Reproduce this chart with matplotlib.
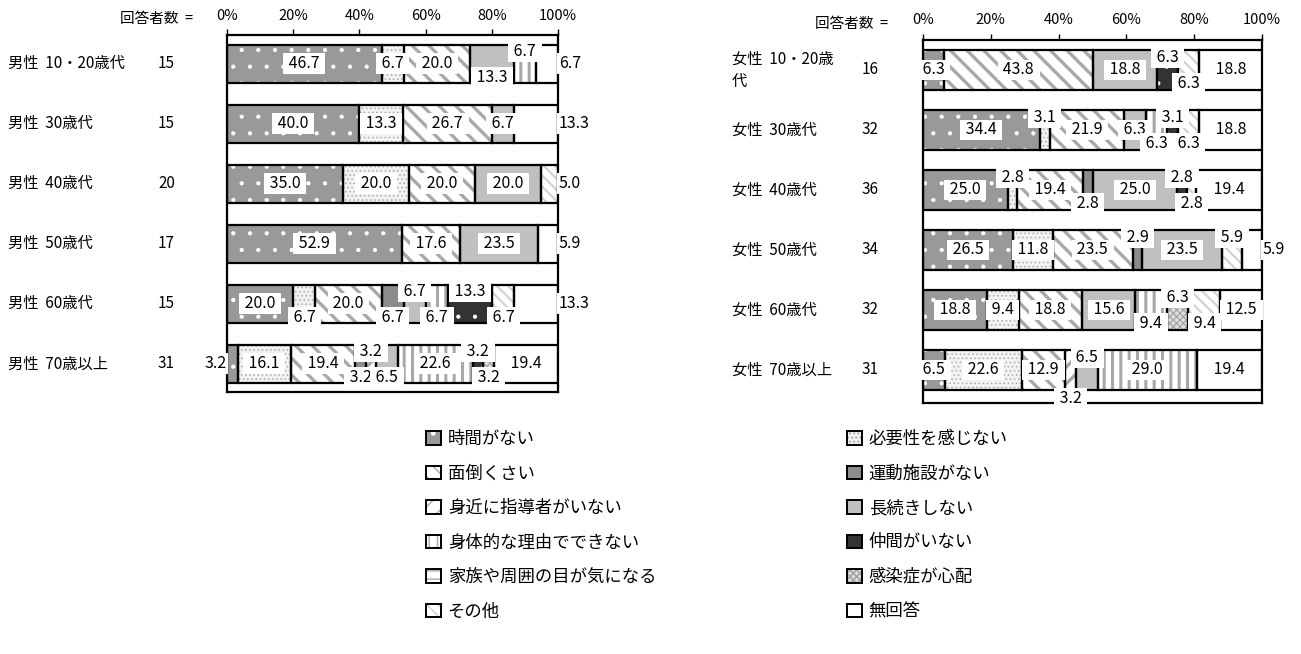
import matplotlib
matplotlib.use("Agg")
import matplotlib.pyplot as plt
from matplotlib.patches import Patch
from matplotlib.legend_handler import HandlerTuple
from matplotlib.transforms import blended_transform_factory

plt.rcParams['font.family'] = ['Noto Sans CJK JP', 'DejaVu Sans']

# ------------------------------------------------------------------
# data
categories = ['時間がない', '必要性を感じない', '面倒くさい', '運動施設がない',
              '身近に指導者がいない', '長続きしない', '身体的な理由でできない',
              '仲間がいない', '家族や周囲の目が気になる', '感染症が心配',
              'その他', '無回答']

male_groups = ['男性  10・20歳代', '男性  30歳代', '男性  40歳代',
               '男性  50歳代', '男性  60歳代', '男性  70歳以上']
male_n = [15, 15, 20, 17, 15, 31]
male_values = [
    [46.7, 6.7, 20.0, 0, 0, 13.3, 6.7, 0, 0, 0, 0, 6.7],
    [40.0, 13.3, 26.7, 0, 0, 6.7, 0, 0, 0, 0, 0, 13.3],
    [35.0, 20.0, 20.0, 0, 0, 20.0, 0, 0, 0, 0, 5.0, 0],
    [52.9, 0, 17.6, 0, 0, 23.5, 0, 0, 0, 0, 0, 5.9],
    [20.0, 6.7, 20.0, 6.7, 0, 6.7, 6.7, 13.3, 0, 0, 6.7, 13.3],
    [3.2, 16.1, 19.4, 3.2, 3.2, 6.5, 22.6, 3.2, 0, 3.2, 0, 19.4],
]

female_groups = ['女性  10・20歳\n代', '女性  30歳代', '女性  40歳代',
                 '女性  50歳代', '女性  60歳代', '女性  70歳以上']
female_n = [16, 32, 36, 34, 32, 31]
female_values = [
    [6.3, 0, 43.8, 0, 0, 18.8, 0, 6.3, 0, 0, 6.3, 18.8],
    [34.4, 3.1, 21.9, 0, 0, 6.3, 6.3, 3.1, 0, 0, 6.3, 18.8],
    [25.0, 2.8, 19.4, 2.8, 0, 25.0, 0, 2.8, 0, 0, 2.8, 19.4],
    [26.5, 11.8, 23.5, 2.9, 0, 23.5, 0, 0, 0, 0, 5.9, 5.9],
    [18.8, 9.4, 18.8, 0, 0, 15.6, 9.4, 0, 0, 6.3, 9.4, 12.5],
    [6.5, 22.6, 12.9, 0, 3.2, 6.5, 29.0, 0, 0, 0, 0, 19.4],
]

ticks = [0, 20, 40, 60, 80, 100]
tick_labels = ['0%', '20%', '40%', '60%', '80%', '100%']

# ------------------------------------------------------------------
# styles: (face, hatch, hatch colour, hatch linewidth)
styles = [
    ('#999999', '.', 'white', 0.6),
    ('#f2f2f2', '....', '#aaaaaa', 0.6),
    ('white', '\\\\', '#a8a8a8', 2.4),
    ('#8c8c8c', '', '#8c8c8c', 1.0),
    ('white', '//', '#a8a8a8', 2.4),
    ('#c0c0c0', '', '#c0c0c0', 1.0),
    ('white', '||', '#a8a8a8', 2.2),
    ('#333333', '.', 'white', 0.6),
    ('white', '--', '#a8a8a8', 2.2),
    ('#dddddd', 'xxxxx', '#a0a0a0', 0.8),
    ('white', '\\\\\\', '#d0d0d0', 1.5),
    ('white', '', 'white', 1.0),
]

# label placement for each non-zero segment: c centre, u up, d down, dd far down, r right, l left
male_label_pos = [
    ['c', 'c', 'c', 'd', 'u', 'r'],
    ['c', 'c', 'c', 'c', 'r'],
    ['c', 'c', 'c', 'c', 'r'],
    ['c', 'c', 'c', 'r'],
    ['c', 'd', 'c', 'd', 'u', 'd', 'u', 'd', 'r'],
    ['l', 'c', 'c', 'd', 'u', 'd', 'c', 'u', 'd', 'c'],
]
female_label_pos = [
    ['c', 'c', 'c', 'u', 'd', 'c'],
    ['c', 'u', 'c', 'c', 'd', 'u', 'd', 'c'],
    ['c', 'u', 'c', 'd', 'c', 'u', 'd', 'c'],
    ['c', 'c', 'c', 'u', 'c', 'u', 'r'],
    ['c', 'c', 'c', 'c', 'd', 'u', 'd', 'c'],
    ['c', 'c', 'c', 'dd', 'u', 'c', 'c'],
]


def hatched_patch(face, hatch, hc, hlw, **kw):
	with plt.rc_context({'hatch.linewidth': hlw}):
		p = Patch(facecolor=face, edgecolor=hc, hatch=hatch, linewidth=0, **kw)
	if hasattr(p, 'set_hatch_linewidth'):
		p.set_hatch_linewidth(hlw)
	return p


def draw_panel(ax, values, label_pos, bar_h):
	for i, row in enumerate(values):
		left = 0
		pos = iter(label_pos[i])
		for k, v in enumerate(row):
			if v == 0:
				continue
			face, hatch, hc, hlw = styles[k]
			with plt.rc_context({'hatch.linewidth': hlw}):
				bars = ax.barh(i, v, left=left, height=bar_h, color=face, edgecolor=hc,
				               hatch=hatch, linewidth=0, zorder=2)
			for b in bars:
				if hasattr(b, 'set_hatch_linewidth'):
					b.set_hatch_linewidth(hlw)
			ax.barh(i, v, left=left, height=bar_h, fill=False,
			        edgecolor='black', linewidth=1.6, zorder=3)
			p = next(pos)
			x, y, ha = left + v / 2, i, 'center'
			txt = f' {v:.1f} '
			if p == 'u':
				y -= 0.2
			elif p == 'd':
				y += 0.22
			elif p == 'dd':
				y += 0.47
			elif p == 'r':
				x, ha, txt = 100.2, 'left', f'{v:.1f}'
			elif p == 'l':
				x, ha, txt = -0.2, 'right', f'{v:.1f}'
			ax.text(x, y, txt, ha=ha, va='center', fontsize=11.5,
			        zorder=5, clip_on=False,
			        bbox=dict(boxstyle='square,pad=0.12', fc='white', ec='none'))
			left += v

	ax.set_xlim(0, 100)
	ax.set_xticks(ticks)
	ax.set_xticklabels(tick_labels, fontsize=10.5)
	ax.xaxis.tick_top()
	ax.tick_params(axis='x', length=4, width=1, pad=5)
	ax.set_yticks([])
	for s in ax.spines.values():
		s.set_linewidth(1.6)


fig = plt.figure(figsize=(13.01, 6.54), dpi=100)

ax1 = fig.add_axes([227 / 1301, 1 - 392 / 654, 331 / 1301, 357 / 654])
ax1.set_ylim(5.47, -0.48)
draw_panel(ax1, male_values, male_label_pos, 0.63)

ax2 = fig.add_axes([923 / 1301, 1 - 403 / 654, 339 / 1301, 363 / 654])
ax2.set_ylim(5.55, -0.5)
draw_panel(ax2, female_values, female_label_pos, 0.66)

# row labels and respondent counts
tr1 = blended_transform_factory(fig.transFigure, ax1.transData)
for i, g in enumerate(male_groups):
	fig.text(8 / 1301, i, g, transform=tr1, va='center', fontsize=11)
	fig.text(158 / 1301, i, str(male_n[i]), transform=tr1, va='center', fontsize=11)
tr2 = blended_transform_factory(fig.transFigure, ax2.transData)
for i, g in enumerate(female_groups):
	fig.text(732 / 1301, i, g, transform=tr2, va='center', fontsize=11, linespacing=1.4)
	fig.text(862 / 1301, i, str(female_n[i]), transform=tr2, va='center', fontsize=11)

fig.text(120 / 1301, 1 - 19 / 654, '回答者数  =', va='center', fontsize=10.5)
fig.text(815 / 1301, 1 - 24 / 654, '回答者数  =', va='center', fontsize=10.5)

# legend in two columns
handles = []
for face, hatch, hc, hlw in styles:
	handles.append((hatched_patch(face, hatch, hc, hlw),
	                Patch(fill=False, edgecolor='black', linewidth=1.4)))
for col, x0 in ((0, 426), (1, 847)):
	idx = list(range(col, 12, 2))
	fig.legend([handles[j] for j in idx], [categories[j] for j in idx],
	           handler_map={tuple: HandlerTuple(ndivide=1, pad=0)},
	           loc='upper left', bbox_to_anchor=(x0 / 1301, 1 - 430 / 654),
	           frameon=False, fontsize=12.5, borderpad=0, borderaxespad=0,
	           handlelength=0.85, handleheight=0.85, handletextpad=0.4,
	           labelspacing=0.95)

fig.savefig('out.png', dpi=100)
